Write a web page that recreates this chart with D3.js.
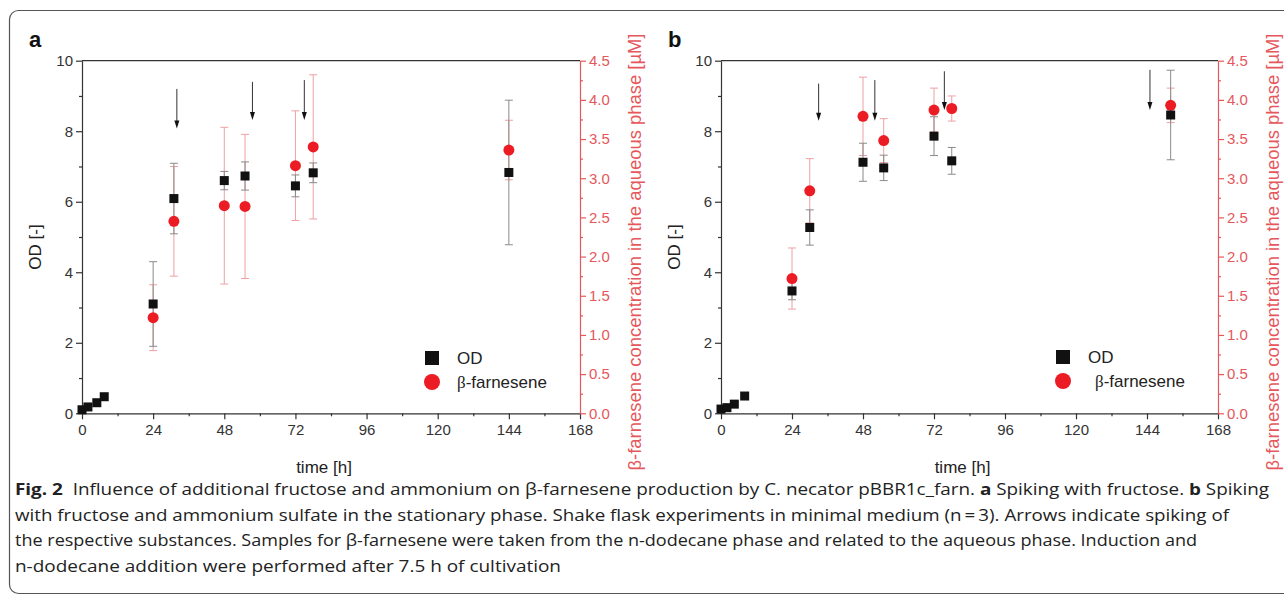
<!DOCTYPE html>
<html lang="en">
<head>
<meta charset="UTF-8">
<title>Fig. 2</title>
<script src="https://d3js.org/d3.v7.min.js"></script>
<style>
  body { margin: 0; background: #fff; }
  svg { display: block; }
</style>
</head>
<body>
<script>
// axis ticks
var timeTicks = [0, 24, 48, 72, 96, 120, 144, 168];
var timeMinor = [12, 36, 60, 84, 108, 132, 156];
var odTicks = [0, 2, 4, 6, 8, 10];
var odMinor = [1, 3, 5, 7, 9];
var farnTicks = [0, 0.5, 1.0, 1.5, 2.0, 2.5, 3.0, 3.5, 4.0, 4.5];
var farnMinor = [0.25, 0.75, 1.25, 1.75, 2.25, 2.75, 3.25, 3.75, 4.25];

// panel a : spiking with fructose
var timeOdA = [0, 2, 5, 7.5, 24, 31, 48, 55, 72, 78, 144];
var odA = [0.1, 0.18, 0.3, 0.47, 3.1, 6.09, 6.6, 6.73, 6.45, 6.82, 6.83];
var odErrA = [0, 0, 0, 0, 1.2, 1.0, 0.26, 0.4, 0.31, 0.28, 2.05];
var timeFarnA = [24, 31, 48, 55, 72, 78, 144];
var farnA = [1.22, 2.45, 2.65, 2.64, 3.16, 3.40, 3.36];
var farnErrA = [0.42, 0.7, 1.0, 0.92, 0.7, 0.92, 0.38];
var spikeA = [32, 57.5, 75];
var spikeTopA = [9.2, 9.4, 9.45];
var spikeTipA = [8.08, 8.32, 8.32];

// panel b : spiking with fructose and ammonium sulfate
var timeOdB = [0, 2, 4.5, 8, 24, 30, 48, 55, 72, 78, 152];
var odB = [0.12, 0.16, 0.26, 0.49, 3.47, 5.27, 7.12, 6.96, 7.86, 7.16, 8.46];
var odErrB = [0, 0, 0, 0, 0.25, 0.5, 0.54, 0.36, 0.55, 0.38, 1.27];
var timeFarnB = [24, 30, 48, 55, 72, 78, 152];
var farnB = [1.72, 2.84, 3.79, 3.48, 3.87, 3.89, 3.93];
var farnErrB = [0.39, 0.41, 0.5, 0.28, 0.28, 0.16, 0.22];
var spikeB = [33, 52, 75.5, 145];
var spikeTopB = [9.35, 9.45, 9.7, 9.74];
var spikeTipB = [8.3, 8.3, 8.6, 8.6];

var w = 1284, h = 597;
var plotTop = 60.7, plotBottom = 413.3;
var red = "#ec1c24";
var axisRed = "#e5575c";

var svg = d3.select("body").append("svg")
    .attr("width", w)
    .attr("height", h);

// frame around figure + caption
svg.append("rect")
    .attr("x", 9.5).attr("y", 10.5)
    .attr("width", 1300).attr("height", 583)
    .attr("rx", 9)
    .attr("fill", "none")
    .attr("stroke", "#555")
    .attr("stroke-width", 1.2);

function drawPanel(p) {
    var g = svg.append("g");
    var x = d3.scaleLinear().domain([0, 168]).range([p.x0, p.x1]);
    var yOd = d3.scaleLinear().domain([0, 10]).range([plotBottom, plotTop]);
    var yF = d3.scaleLinear().domain([0, 4.5]).range([plotBottom, plotTop]);

    // top border
    g.append("line")
        .attr("x1", p.x0).attr("x2", p.x1)
        .attr("y1", plotTop).attr("y2", plotTop)
        .attr("stroke", "#333").attr("stroke-width", 1.2);

    // bottom axis
    g.append("g").attr("transform", "translate(0," + plotBottom + ")")
        .call(d3.axisBottom(x).tickValues(timeTicks).tickSize(6).tickSizeOuter(0).tickPadding(5));
    g.append("g").attr("transform", "translate(0," + plotBottom + ")")
        .call(d3.axisBottom(x).tickValues(timeMinor).tickSize(3).tickFormat(""))
        .select(".domain").remove();

    // left axis
    g.append("g").attr("transform", "translate(" + p.x0 + ",0)")
        .call(d3.axisLeft(yOd).tickValues(odTicks).tickSize(6).tickSizeOuter(0).tickPadding(3));
    g.append("g").attr("transform", "translate(" + p.x0 + ",0)")
        .call(d3.axisLeft(yOd).tickValues(odMinor).tickSize(3).tickFormat(""))
        .select(".domain").remove();

    // right axis (red)
    var ra = g.append("g").attr("transform", "translate(" + p.x1 + ",0)")
        .call(d3.axisRight(yF).tickValues(farnTicks).tickSize(6).tickSizeOuter(0)
            .tickPadding(3).tickFormat(d3.format(".1f")));
    var rm = g.append("g").attr("transform", "translate(" + p.x1 + ",0)")
        .call(d3.axisRight(yF).tickValues(farnMinor).tickSize(3).tickFormat(""));
    rm.select(".domain").remove();

    g.selectAll(".domain, .tick line").attr("stroke", "#333").attr("stroke-width", 1.2);
    ra.selectAll(".domain, .tick line").attr("stroke", axisRed);
    rm.selectAll(".tick line").attr("stroke", axisRed);
    g.selectAll(".tick text")
        .attr("font-family", "Liberation Sans, Arial, sans-serif")
        .attr("font-size", 15)
        .attr("fill", "#333");
    ra.selectAll(".tick text").attr("fill", axisRed);

    // axis titles
    g.append("text")
        .attr("transform", "translate(" + (p.x0 - 41) + ",247) rotate(-90)")
        .attr("text-anchor", "middle")
        .attr("font-family", "Liberation Sans, Arial, sans-serif")
        .attr("font-size", 17).attr("fill", "#222")
        .text("OD [-]");
    g.append("text")
        .attr("x", (p.x0 + p.x1) / 2 - 7).attr("y", 473)
        .attr("text-anchor", "middle")
        .attr("font-family", "Liberation Sans, Arial, sans-serif")
        .attr("font-size", 17).attr("fill", "#222")
        .text("time [h]");
    g.append("text")
        .attr("transform", "translate(" + (p.x1 + 61) + ",252) rotate(-90)")
        .attr("text-anchor", "middle")
        .attr("font-family", "Liberation Sans, Arial, sans-serif")
        .attr("font-size", 18).attr("fill", axisRed)
        .attr("textLength", 437).attr("lengthAdjust", "spacingAndGlyphs")
        .text("\u03b2-farnesene concentration in the aqueous phase [\u00b5M]");

    // panel letter
    g.append("text")
        .attr("x", p.x0 - 53).attr("y", 47)
        .attr("font-family", "Liberation Sans, Arial, sans-serif")
        .attr("font-weight", "bold")
        .attr("font-size", 22).attr("fill", "#111")
        .text(p.label);

    // error bars
    function errBars(ts, vs, es, yScale, color) {
        var eb = g.append("g").attr("stroke", color).attr("stroke-width", 1);
        ts.forEach(function(t, i) {
            if (!es[i]) return;
            var cx = x(t), y1 = yScale(vs[i] - es[i]), y2 = yScale(vs[i] + es[i]);
            eb.append("line").attr("x1", cx).attr("x2", cx).attr("y1", y1).attr("y2", y2);
            eb.append("line").attr("x1", cx - 4).attr("x2", cx + 4).attr("y1", y1).attr("y2", y1);
            eb.append("line").attr("x1", cx - 4).attr("x2", cx + 4).attr("y1", y2).attr("y2", y2);
        });
    }
    errBars(p.tF, p.f, p.fe, yF, "#eda0a4");
    errBars(p.tOd, p.od, p.ode, yOd, "#8a8a8a");

    // markers
    g.selectAll(".farn").data(p.f).join("circle")
        .attr("cx", function(d, i) { return x(p.tF[i]); })
        .attr("cy", function(d) { return yF(d); })
        .attr("r", 5.5)
        .attr("fill", red);
    g.selectAll(".od").data(p.od).join("rect")
        .attr("x", function(d, i) { return x(p.tOd[i]) - 4.5; })
        .attr("y", function(d) { return yOd(d) - 4.5; })
        .attr("width", 9).attr("height", 9)
        .attr("fill", "#111");

    // spiking arrows
    p.spike.forEach(function(t, i) {
        var ax = x(t), y1 = yOd(p.sTop[i]), y2 = yOd(p.sTip[i]);
        g.append("line").attr("x1", ax).attr("x2", ax).attr("y1", y1).attr("y2", y2 - 7)
            .attr("stroke", "#333").attr("stroke-width", 1);
        g.append("path")
            .attr("d", "M" + (ax - 2.5) + "," + (y2 - 8) + "L" + (ax + 2.5) + "," + (y2 - 8) + "L" + ax + "," + y2 + "Z")
            .attr("fill", "#111");
    });

    // legend
    var lg = g.append("g");
    lg.append("rect").attr("x", p.lx - 7).attr("y", p.ly - 7).attr("width", 14).attr("height", 14).attr("fill", "#111");
    lg.append("circle").attr("cx", p.lx).attr("cy", p.ly + 24).attr("r", 8).attr("fill", red);
    lg.append("text").attr("x", p.lx + 25).attr("y", p.ly + 6)
        .attr("font-family", "Liberation Sans, Arial, sans-serif")
        .attr("font-size", 17).attr("fill", "#222").text("OD");
    var t2 = lg.append("text").attr("x", p.lx + p.tx).attr("y", p.ly + 30)
        .attr("font-family", "Liberation Sans, Arial, sans-serif")
        .attr("font-size", 17).attr("fill", "#222");
    t2.append("tspan").attr("font-family", "Liberation Serif, serif").text("\u03b2");
    t2.append("tspan").text("-farnesene");
}

drawPanel({ label: "a", x0: 82, x1: 580,
    tOd: timeOdA, od: odA, ode: odErrA, tF: timeFarnA, f: farnA, fe: farnErrA,
    spike: spikeA, sTop: spikeTopA, sTip: spikeTipA, lx: 432, ly: 358, tx: 25 });
drawPanel({ label: "b", x0: 721, x1: 1218,
    tOd: timeOdB, od: odB, ode: odErrB, tF: timeFarnB, f: farnB, fe: farnErrB,
    spike: spikeB, sTop: spikeTopB, sTip: spikeTipB, lx: 1063, ly: 357, tx: 32 });

// caption
var capFont = "Open Sans, Noto Sans, sans-serif";
var capLines = [
    [["Fig. 2", true], ["  Influence of additional fructose and ammonium on \u03b2-farnesene production by C. necator pBBR1c_farn. ", false],
     ["a", true], [" Spiking with fructose. ", false], ["b", true], [" Spiking", false]],
    [["with fructose and ammonium sulfate in the stationary phase. Shake flask experiments in minimal medium (n\u2009=\u20093). Arrows indicate spiking of", false]],
    [["the respective substances. Samples for \u03b2-farnesene were taken from the n-dodecane phase and related to the aqueous phase. Induction and", false]],
    [["n-dodecane addition were performed after 7.5 h of cultivation", false]]
];
var capWidths = [1254, 1214, 1182, 546];
capLines.forEach(function(line, i) {
    var t = svg.append("text")
        .attr("x", 15).attr("y", 495 + i * 25.5)
        .attr("font-family", capFont)
        .attr("font-size", 16)
        .attr("fill", "#222")
        .attr("xml:space", "preserve")
        .attr("textLength", capWidths[i])
        .attr("lengthAdjust", "spacingAndGlyphs");
    line.forEach(function(part) {
        t.append("tspan").attr("font-weight", part[1] ? "bold" : null).text(part[0]);
    });
});
</script>
</body>
</html>
